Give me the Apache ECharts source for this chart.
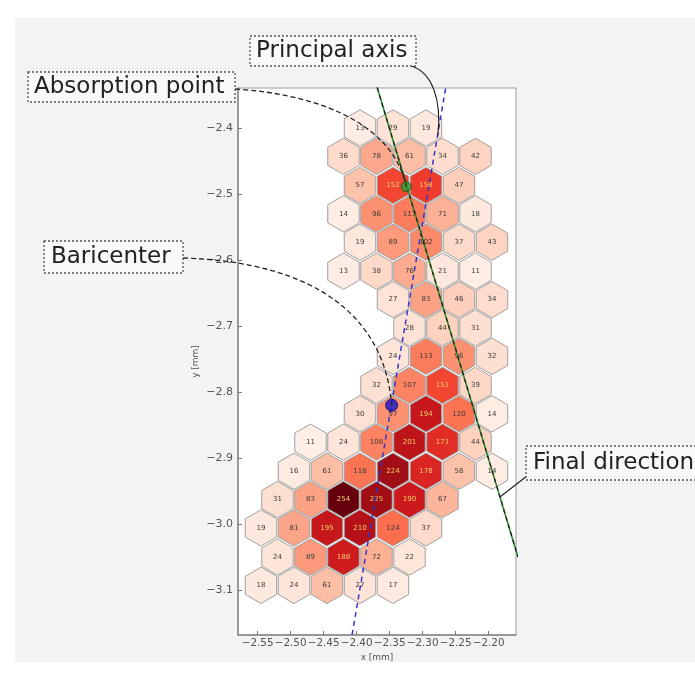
<!DOCTYPE html>
<html>
<head>
<meta charset="utf-8">
<script src="https://cdn.jsdelivr.net/npm/echarts@6/dist/echarts.min.js"></script>
<style>
  html, body { margin: 0; padding: 0; background: #ffffff; }
  #panel { position: absolute; left: 15px; top: 18px; width: 680px; height: 644px; background: #f3f3f3; }
  #chart { position: absolute; left: 0; top: 0; width: 695px; height: 674px; }
</style>
</head>
<body>
<div id="panel"></div>
<div id="chart"></div>
<script>
// Hexagonal pixel rows, top to bottom: centre y of each row (mm)
const rowY = [-2.400, -2.443, -2.487, -2.530, -2.573, -2.617, -2.660, -2.703, -2.746,
              -2.790, -2.833, -2.876, -2.920, -2.963, -3.006, -3.050, -3.093];
// Centre x of each hit pixel in the row (mm)
const rowX = [
  [-2.395, -2.345, -2.295],
  [-2.420, -2.370, -2.320, -2.270, -2.220],
  [-2.395, -2.345, -2.295, -2.245],
  [-2.420, -2.370, -2.320, -2.270, -2.220],
  [-2.395, -2.345, -2.295, -2.245, -2.195],
  [-2.420, -2.370, -2.320, -2.270, -2.220],
  [-2.345, -2.295, -2.245, -2.195],
  [-2.320, -2.270, -2.220],
  [-2.345, -2.295, -2.245, -2.195],
  [-2.370, -2.320, -2.270, -2.220],
  [-2.395, -2.345, -2.295, -2.245, -2.195],
  [-2.470, -2.420, -2.370, -2.320, -2.270, -2.220],
  [-2.495, -2.445, -2.395, -2.345, -2.295, -2.245, -2.195],
  [-2.520, -2.470, -2.420, -2.370, -2.320, -2.270],
  [-2.545, -2.495, -2.445, -2.395, -2.345, -2.295],
  [-2.520, -2.470, -2.420, -2.370, -2.320],
  [-2.545, -2.495, -2.445, -2.395, -2.345]
];
// Counts collected in each pixel
const rowCounts = [
  [13, 29, 19],
  [36, 78, 61, 34, 42],
  [57, 152, 158, 47],
  [14, 96, 113, 71, 18],
  [19, 89, 102, 37, 43],
  [13, 38, 76, 21, 11],
  [27, 83, 46, 34],
  [28, 44, 31],
  [24, 113, 96, 32],
  [32, 107, 151, 39],
  [30, 97, 194, 120, 14],
  [11, 24, 108, 201, 171, 44],
  [16, 61, 118, 224, 178, 58, 14],
  [31, 83, 254, 225, 190, 67],
  [19, 81, 195, 210, 124, 37],
  [24, 89, 188, 72, 22],
  [18, 24, 61, 27, 17]
];

// Reconstructed track quantities (mm)
const absorptionPoint = [-2.325, -2.489];
const baricenter = [-2.347, -2.820];
const principalAxis = [[-2.263, -2.327], [-2.407, -3.168]];
const finalDirection = [[-2.3723, -2.3273], [-2.1556, -3.050]];
const principalAnchor = [-2.277, -2.411];
const directionAnchor = [-2.183, -2.959];

// Tick labels
const xTicks = [-2.55, -2.50, -2.45, -2.40, -2.35, -2.30, -2.25, -2.20];
const yTicks = [-2.4, -2.5, -2.6, -2.7, -2.8, -2.9, -3.0, -3.1];

const HEX_R = 0.0275; // drawn radius, a bit below the 0.0289 lattice radius
const reds = ['#fff5f0', '#fee0d2', '#fcbba1', '#fc9272', '#fb6a4a', '#ef3b2c', '#cb181d', '#a50f15', '#67000d'];

const cells = [];
rowY.forEach((y, i) => {
  rowX[i].forEach((x, j) => cells.push([x, y, rowCounts[i][j]]));
});

const minusFmt = (digits) => (v) => (v < 0 ? '\u2212' : '') + Math.abs(v).toFixed(digits);

const chart = echarts.init(document.getElementById('chart'), null, { renderer: 'canvas' });

const option = {
  animation: false,
  backgroundColor: 'transparent',
  grid: {
    left: 238, top: 88, right: 179, bottom: 39,
    show: true, backgroundColor: '#ffffff', borderColor: '#9a9a9a', borderWidth: 1
  },
  xAxis: {
    type: 'value', min: -2.5798, max: -2.1586,
    name: 'x [mm]', nameLocation: 'middle', nameGap: 18,
    nameTextStyle: { fontFamily: 'DejaVu Sans', fontSize: 9, color: '#555' },
    axisLine: { show: true, lineStyle: { color: '#888', width: 1.5 } },
    axisTick: { show: true, inside: true, length: 4, customValues: xTicks, lineStyle: { color: '#777' } },
    axisLabel: { customValues: xTicks, formatter: minusFmt(2), fontFamily: 'DejaVu Sans', fontSize: 10.4,
                 color: '#555', margin: 3, hideOverlap: false },
    splitLine: { show: false }
  },
  yAxis: {
    type: 'value', min: -3.1682, max: -2.3394,
    name: 'y [mm]', nameLocation: 'middle', nameGap: 38, nameRotate: 90,
    nameTextStyle: { fontFamily: 'DejaVu Sans', fontSize: 9, color: '#555' },
    axisLine: { show: true, lineStyle: { color: '#888', width: 1.5 } },
    axisTick: { show: true, inside: true, length: 4, customValues: yTicks, lineStyle: { color: '#777' } },
    axisLabel: { customValues: yTicks, formatter: minusFmt(1), fontFamily: 'DejaVu Sans', fontSize: 11,
                 color: '#555', margin: 5, hideOverlap: false },
    splitLine: { show: false }
  },
  visualMap: {
    show: false, type: 'continuous', seriesIndex: 0, dimension: 2,
    min: 0, max: 254, inRange: { color: reds }
  },
  series: [
    {
      type: 'custom',
      coordinateSystem: 'cartesian2d',
      data: cells,
      clip: true,
      renderItem: (params, api) => {
        const cx = api.value(0), cy = api.value(1), v = api.value(2);
        const pts = [];
        for (let k = 0; k < 6; k++) {
          const a = Math.PI / 180 * (90 + 60 * k);
          pts.push(api.coord([cx + HEX_R * Math.cos(a), cy + HEX_R * Math.sin(a)]));
        }
        const c = api.coord([cx, cy]);
        return {
          type: 'group',
          children: [
            { type: 'polygon', shape: { points: pts },
              style: { fill: api.visual('color'), stroke: '#a0a0a0', lineWidth: 1 } },
            { type: 'text', x: c[0], y: c[1],
              style: { text: String(v), fill: v > 140 ? '#f5cf6a' : '#3a3a3a',
                       font: '7px "DejaVu Sans"', align: 'center', verticalAlign: 'middle' } }
          ]
        };
      }
    },
    {
      // principal axis through the baricenter
      type: 'line', data: principalAxis, showSymbol: false, clip: true, z: 5,
      lineStyle: { color: '#3434c8', width: 1.5, type: [5, 4] }
    },
    {
      // final direction from the absorption point
      type: 'line', data: finalDirection, showSymbol: false, clip: true, z: 5,
      lineStyle: { color: '#2c8a2c', width: 1.6 }
    },
    {
      type: 'line', data: finalDirection, showSymbol: false, clip: true, z: 6,
      lineStyle: { color: '#1a1a1a', width: 1.2, type: [4, 4] }
    },
    {
      type: 'scatter', data: [absorptionPoint], symbolSize: 10, z: 8,
      itemStyle: { color: '#2ca02c', borderColor: '#1a4a1a', borderWidth: 1 }
    },
    {
      type: 'scatter', data: [baricenter], symbolSize: 12, z: 8,
      itemStyle: { color: '#1515d0', borderColor: '#0a0a60', borderWidth: 1 }
    }
  ]
};

chart.setOption(option);

// Annotation boxes with their connectors
const P = (pt) => chart.convertToPixel({ gridIndex: 0 }, pt);
const pAbs = P(absorptionPoint);
const pBar = P(baricenter);
const pPa = P(principalAnchor);
const pDir = P(directionAnchor);

function labelBox(x, y, w, h, text, tx) {
  return [
    { type: 'rect', shape: { x: x, y: y, width: w, height: h }, z: 20,
      style: { fill: '#f9f9f9', stroke: '#555', lineWidth: 1.3, lineDash: [2, 2] } },
    { type: 'text', x: tx, y: y + h / 2, z: 21,
      style: { text: text, font: '23px "DejaVu Sans"', fill: '#222', verticalAlign: 'middle', align: 'left' } }
  ];
}

const graphics = [
  { type: 'bezierCurve', z: 15,
    shape: { x1: 235, y1: 89, cpx1: 330, cpy1: 95, cpx2: 395, cpy2: 130, x2: pAbs[0], y2: pAbs[1] },
    style: { stroke: '#222', lineWidth: 1.3, lineDash: [5, 3], fill: null } },
  { type: 'bezierCurve', z: 15,
    shape: { x1: 183, y1: 258, cpx1: 320, cpy1: 262, cpx2: 385, cpy2: 320, x2: pBar[0], y2: pBar[1] },
    style: { stroke: '#222', lineWidth: 1.3, lineDash: [5, 3], fill: null } },
  { type: 'bezierCurve', z: 15,
    shape: { x1: 411, y1: 66, cpx1: 432, cpy1: 72, cpx2: 442, cpy2: 100, x2: pPa[0], y2: pPa[1] },
    style: { stroke: '#222', lineWidth: 1.2, fill: null } },
  { type: 'line', z: 15,
    shape: { x1: 527, y1: 476, x2: pDir[0], y2: pDir[1] },
    style: { stroke: '#222', lineWidth: 1.2 } }
]
  .concat(labelBox(250, 36, 166, 30, 'Principal axis', 256))
  .concat(labelBox(28, 72, 207, 30, 'Absorption point', 34))
  .concat(labelBox(44, 241, 139, 32, 'Baricenter', 51))
  .concat(labelBox(526, 446, 200, 34, 'Final direction', 533));

chart.setOption({ graphic: graphics });
</script>
</body>
</html>
